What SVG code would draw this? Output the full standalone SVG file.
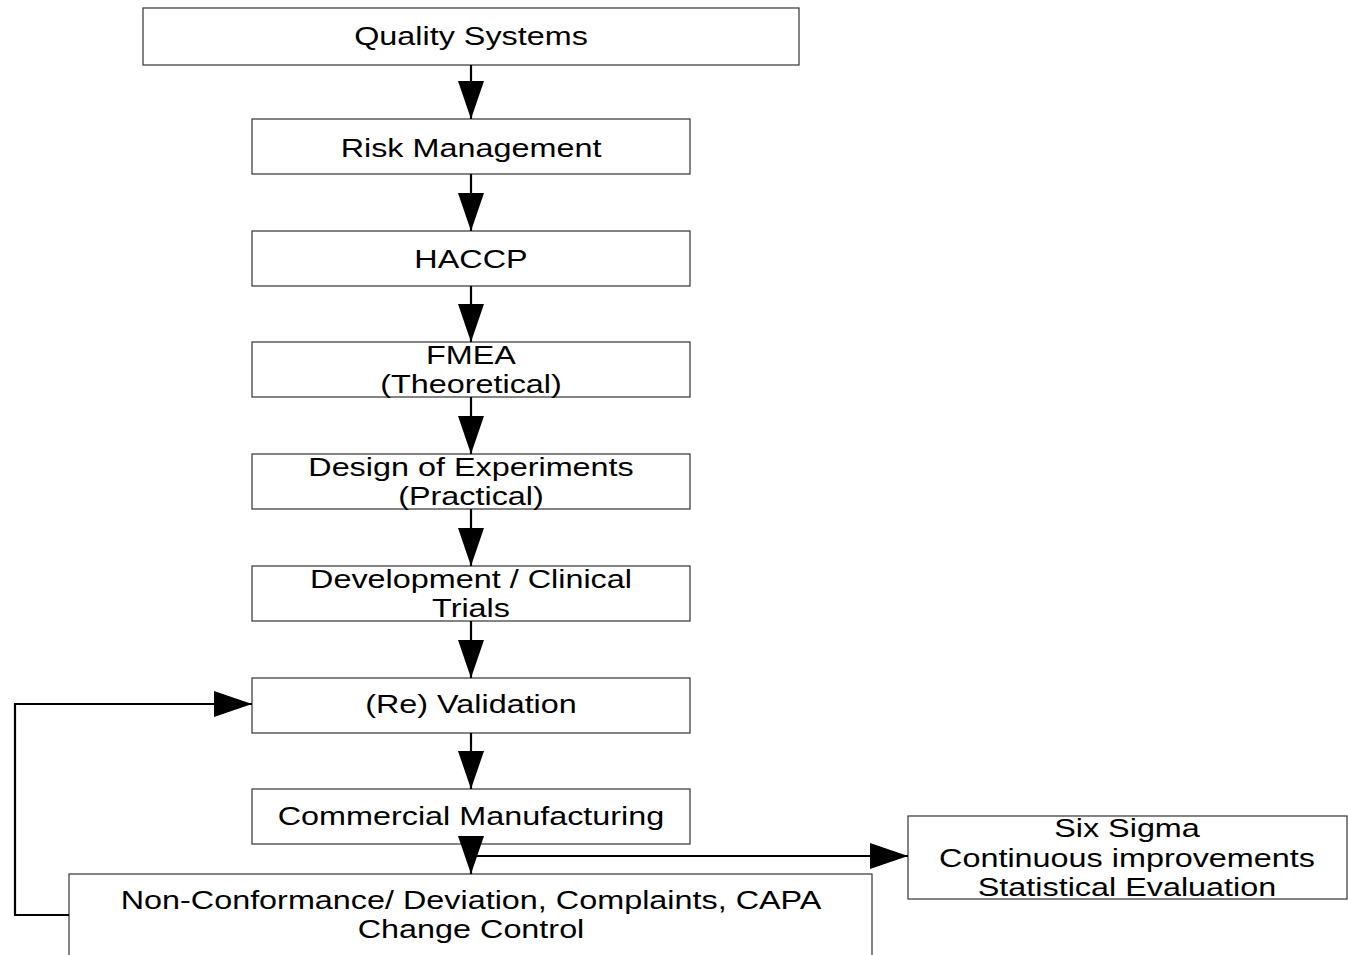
<svg xmlns="http://www.w3.org/2000/svg" width="1348" height="955" viewBox="0 0 1348 955">
<style>
.box{fill:#fff;stroke:#333;stroke-width:1.2}
.t{font-family:"Liberation Sans",Arial,sans-serif;font-size:26px;fill:#000;text-anchor:middle}
.c{fill:none;stroke:#000;stroke-width:2.2}
</style>
<defs>
<marker id="ah" markerUnits="userSpaceOnUse" markerWidth="40" markerHeight="30" refX="38" refY="13" orient="auto" viewBox="0 0 40 30">
<path d="M0,0 L38,13 L0,26 Z" fill="#000"/>
</marker>
</defs>
<rect width="1348" height="955" fill="#fff"/>
<g id="n1"><rect class="box" x="143" y="8" width="656" height="57"/><g transform="translate(471 0) scale(1.245 1)"><text class="t" x="0" y="45">Quality Systems</text></g></g>
<g id="n2"><rect class="box" x="252" y="119" width="438" height="55"/><g transform="translate(471 0) scale(1.245 1)"><text class="t" x="0" y="157">Risk Management</text></g></g>
<g id="n3"><rect class="box" x="252" y="231" width="438" height="55"/><g transform="translate(471 0) scale(1.245 1)"><text class="t" x="0" y="268">HACCP</text></g></g>
<g id="n4"><rect class="box" x="252" y="342" width="438" height="55"/><g transform="translate(471 0) scale(1.245 1)"><text class="t" x="0" y="364">FMEA</text><text class="t" x="0" y="393">(Theoretical)</text></g></g>
<g id="n5"><rect class="box" x="252" y="454" width="438" height="55"/><g transform="translate(471 0) scale(1.245 1)"><text class="t" x="0" y="476">Design of Experiments</text><text class="t" x="0" y="505">(Practical)</text></g></g>
<g id="n6"><rect class="box" x="252" y="566" width="438" height="55"/><g transform="translate(471 0) scale(1.245 1)"><text class="t" x="0" y="588">Development / Clinical</text><text class="t" x="0" y="617">Trials</text></g></g>
<g id="n7"><rect class="box" x="252" y="678" width="438" height="55"/><g transform="translate(471 0) scale(1.245 1)"><text class="t" x="0" y="713">(Re) Validation</text></g></g>
<g id="n8"><rect class="box" x="252" y="789" width="438" height="55"/><g transform="translate(471 0) scale(1.245 1)"><text class="t" x="0" y="825">Commercial Manufacturing</text></g></g>
<g id="n9"><rect class="box" x="69" y="874" width="803" height="100"/><g transform="translate(471 0) scale(1.245 1)"><text class="t" x="0" y="909">Non-Conformance/ Deviation, Complaints, CAPA</text><text class="t" x="0" y="938">Change Control</text></g></g>
<g id="n10"><rect class="box" x="908" y="816" width="439" height="83"/><g transform="translate(1127 0) scale(1.245 1)"><text class="t" x="0" y="837">Six Sigma</text><text class="t" x="0" y="867">Continuous improvements</text><text class="t" x="0" y="896">Statistical Evaluation</text></g></g>
<g id="connectors">
<line class="c" x1="471" y1="65" x2="471" y2="119" marker-end="url(#ah)"/>
<line class="c" x1="471" y1="174" x2="471" y2="231" marker-end="url(#ah)"/>
<line class="c" x1="471" y1="286" x2="471" y2="342" marker-end="url(#ah)"/>
<line class="c" x1="471" y1="397" x2="471" y2="454" marker-end="url(#ah)"/>
<line class="c" x1="471" y1="509" x2="471" y2="566" marker-end="url(#ah)"/>
<line class="c" x1="471" y1="621" x2="471" y2="678" marker-end="url(#ah)"/>
<line class="c" x1="471" y1="733" x2="471" y2="789" marker-end="url(#ah)"/>
<line class="c" x1="471" y1="844" x2="471" y2="874" marker-end="url(#ah)"/>
<line class="c" x1="471" y1="856" x2="908" y2="856" marker-end="url(#ah)"/>
<polyline class="c" points="69,915 15,915 15,704 252,704" marker-end="url(#ah)"/>
</g>
</svg>
